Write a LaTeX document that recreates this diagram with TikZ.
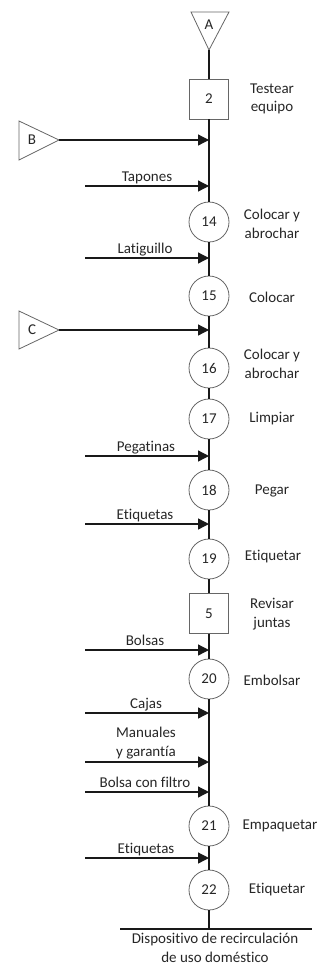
\documentclass[tikz,border=0pt]{standalone}
\usepackage{fontspec}
\setmainfont{Carlito}[Ligatures={NoCommon}]
\usetikzlibrary{arrows.meta}
\begin{document}
\begin{tikzpicture}[x=1pt,y=-1pt,
  every node/.style={font=\fontsize{15}{18.5}\selectfont, text=black!85},
  op/.style={draw=black!60, line width=0.8pt, circle, minimum size=40pt, inner sep=0pt},
  insp/.style={draw=black!60, line width=0.8pt, rectangle, minimum width=39pt, minimum height=40pt, inner sep=0pt},
  tri/.style={draw=black!60, line width=0.8pt, fill=white},
  flow/.style={line width=1.3pt, black!90},
  feed/.style={line width=1.3pt, black!90, -{Triangle[length=11pt,width=11pt]}},
  lbl/.style={align=center, inner sep=0pt},
  inlbl/.style={anchor=base, inner sep=0pt}
]
\useasboundingbox (0,0) rectangle (326,967);
% connectors (triangles)
\draw[tri] (191,12) -- (229,12) -- (209,50) -- cycle;
\coordinate (Atip) at (209,50);
\node[inner sep=0pt] (A) at (209,25) {A};
\draw[tri] (19,121) -- (19,160) -- (59,140) -- cycle;
\coordinate (Btip) at (59,140);
\node[inner sep=0pt] (B) at (32,140) {B};
\draw[tri] (19,311) -- (19,349) -- (59,330) -- cycle;
\coordinate (Ctip) at (59,330);
\node[inner sep=0pt] (C) at (32,330) {C};

% main nodes
\node[insp] (s2) at (209,99) {2};
\node[op] (c14) at (209,222) {14};
\node[op] (c15) at (209,296) {15};
\node[op] (c16) at (209,368) {16};
\node[op] (c17) at (209,419) {17};
\node[op] (c18) at (209,490) {18};
\node[op] (c19) at (209,559) {19};
\node[insp] (s5) at (209,613.5) {5};
\node[op] (c20) at (209,679) {20};
\node[op] (c21) at (209,826) {21};
\node[op] (c22) at (209,890) {22};
\coordinate (end) at (209,929);
\coordinate (endL) at (120,929);
\coordinate (endR) at (312,929);

% main flow line
\draw[flow] (Atip) -- (s2.north);
\draw[flow] (s2) -- (c14) -- (c15) -- (c16) -- (c17) -- (c18) -- (c19) -- (s5) -- (c20) -- (c21) -- (c22) -- (end);
\draw[line width=1.1pt, black!90] (endL) -- (endR);

% right labels
\node[lbl] (t2) at (272,99) {Testear\\equipo};
\node[lbl] (t14) at (272,224) {Colocar y\\abrochar};
\node[lbl] (t15) at (272,297) {Colocar};
\node[lbl] (t16) at (272,364) {Colocar y\\abrochar};
\node[lbl] (t17) at (272,419) {Limpiar};
\node[lbl] (t18) at (272,491) {Pegar};
\node[lbl] (t19) at (273,557) {Etiquetar};
\node[lbl] (t5) at (272,614) {Revisar\\juntas};
\node[lbl] (t20) at (272,680) {Embolsar};
\node[lbl] (t21) at (280,826) {Empaquetar};
\node[lbl] (t22) at (277,890) {Etiquetar};
\node[lbl] (tend) at (215,948) {Dispositivo de recirculación\\de uso doméstico};

% incoming arrows
\coordinate (jB) at (209,140);
\coordinate (j1) at (209,186);  \coordinate (s1) at (85,186);
\coordinate (j2) at (209,258);  \coordinate (s2a) at (85,258);
\coordinate (jC) at (209,330);
\coordinate (j3) at (209,456);  \coordinate (s3) at (85,456);
\coordinate (j4) at (209,524);  \coordinate (s4) at (85,524);
\coordinate (j5) at (209,650);  \coordinate (s5a) at (85,650);
\coordinate (j6) at (209,713);  \coordinate (s6) at (85,713);
\coordinate (j7) at (209,762);  \coordinate (s7) at (85,762);
\coordinate (j8) at (209,792);  \coordinate (s8) at (85,792);
\coordinate (j9) at (209,858);  \coordinate (s9) at (85,858);

\draw[feed] (Btip) -- (jB);
\draw[feed] (Ctip) -- (jC);
\draw[feed] (s1) -- (j1);
\draw[feed] (s2a) -- (j2);
\draw[feed] (s3) -- (j3);
\draw[feed] (s4) -- (j4);
\draw[feed] (s5a) -- (j5);
\draw[feed] (s6) -- (j6);
\draw[feed] (s7) -- (j7);
\draw[feed] (s8) -- (j8);
\draw[feed] (s9) -- (j9);

\node[inlbl] (l1) at (147,181) {Tapones};
\node[inlbl] (l2) at (145,253) {Latiguillo};
\node[inlbl] (l3) at (146,451) {Pegatinas};
\node[inlbl] (l4) at (145,519) {Etiquetas};
\node[inlbl] (l5) at (145,645) {Bolsas};
\node[inlbl] (l6) at (146,708) {Cajas};
\node[lbl] (l7) at (146,743) {Manuales\\y garantía};
\node[inlbl] (l8) at (145,787) {Bolsa con filtro};
\node[inlbl] (l9) at (146,853) {Etiquetas};
\end{tikzpicture}
\end{document}
